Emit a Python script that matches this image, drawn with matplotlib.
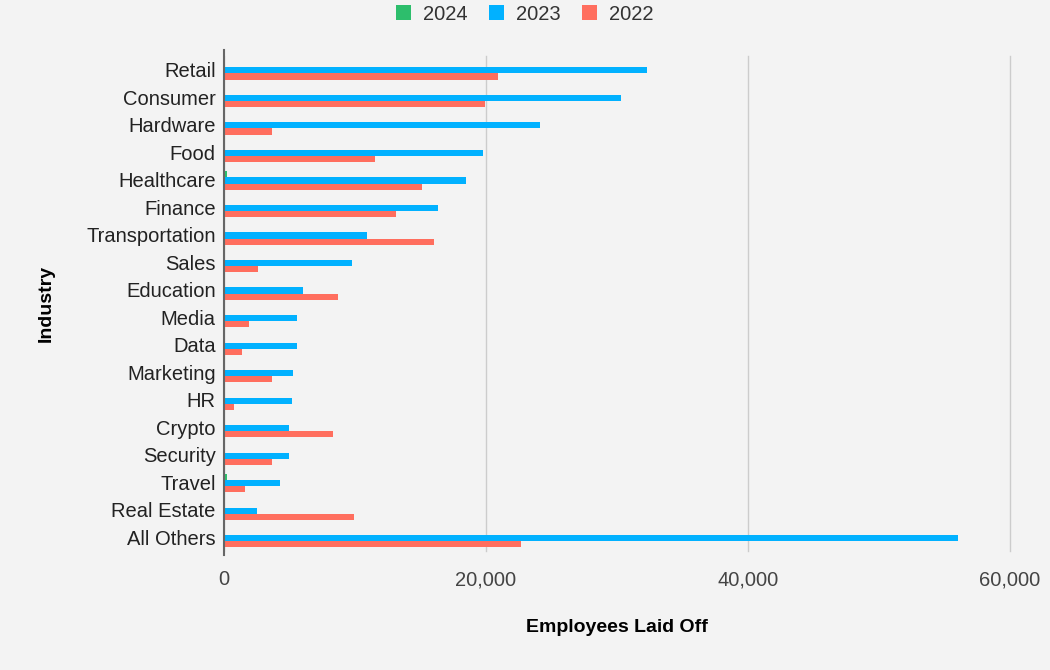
import numpy as np
import matplotlib.pyplot as plt

# Daten
industries = ["Retail", "Consumer", "Hardware", "Food", "Healthcare", "Finance",
              "Transportation", "Sales", "Education", "Media", "Data", "Marketing",
              "HR", "Crypto", "Security", "Travel", "Real Estate", "All Others"]
laid_off_2024 = [0, 0, 0, 0, 200, 0, 0, 0, 0, 0, 0, 0, 0, 0, 100, 200, 0, 0]
laid_off_2023 = [32300, 30300, 24100, 19800, 18500, 16300, 10900, 9800, 6000, 5600,
                 5600, 5300, 5200, 5000, 5000, 4300, 2500, 56000]
laid_off_2022 = [20900, 19900, 3700, 11500, 15100, 13100, 16000, 2600, 8700, 1900,
                 1400, 3700, 800, 8300, 3700, 1600, 9900, 22700]

series = [("2024", laid_off_2024, "#2dbe6c"),
          ("2023", laid_off_2023, "#01b1ff"),
          ("2022", laid_off_2022, "#ff6e5e")]

plt.rcParams['font.family'] = ['Arial', 'Liberation Sans', 'DejaVu Sans']

fig = plt.figure(figsize=(10.5, 6.7), dpi=100, facecolor="#f3f3f3")
ax = fig.add_axes([0.2133, 0.1776, 0.7486, 0.739])
ax.set_facecolor("#f3f3f3")

y = np.arange(len(industries))
h = 0.22
for i, (name, vals, col) in enumerate(series):
    ax.barh(y + (i - 1) * h + 0.03, vals, height=h, color=col, label=name)

ax.set_ylim(len(industries) - 0.5, -0.5)
ax.set_xlim(0, 60000)
ax.set_yticks(y)
ax.set_yticklabels(industries, fontsize=14.5, color="#222222")
ax.set_xticks([0, 20000, 40000, 60000])
ax.set_xticklabels(["0", "20,000", "40,000", "60,000"], fontsize=14.5, color="#444444")
ax.tick_params(length=0, pad=6)
ax.tick_params(axis="x", pad=14)
ax.grid(axis="x", color="#cccccc", linewidth=1)
for gl in ax.xaxis.get_gridlines():
    gl.set_clip_on(False)
ax.set_axisbelow(True)
for s in ["top", "right", "bottom"]:
    ax.spines[s].set_visible(False)
ax.spines["left"].set_color("#666666")
ax.spines["left"].set_linewidth(1.5)
ax.spines["left"].set_bounds(len(industries) - 0.35, -0.7)

ax.set_xlabel("Employees Laid Off", fontsize=14, fontweight="bold")
ax.set_ylabel("Industry", fontsize=14, fontweight="bold")
ax.xaxis.set_label_coords(0.5, -0.138)
ax.yaxis.set_label_coords(-0.215, 0.5)

fig.legend(loc="upper center", bbox_to_anchor=(0.5, 1.02), ncol=3, frameon=False,
           fontsize=14.5, handlelength=0.75, handleheight=0.75, columnspacing=1.05,
           handletextpad=0.6, labelcolor="#333333")

plt.savefig("out.png", dpi=100, facecolor=fig.get_facecolor())
